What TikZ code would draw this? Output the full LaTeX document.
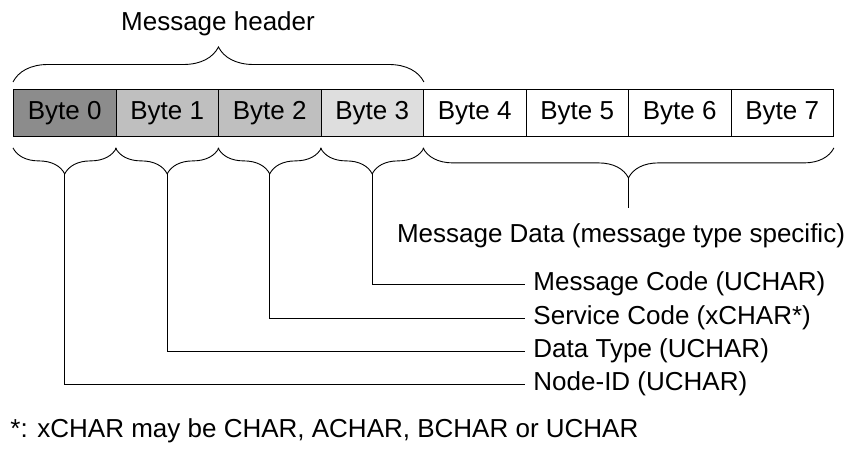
\documentclass[tikz,border=0pt]{standalone}
\usepackage{fontspec}
\setmainfont{Liberation Sans}
\usetikzlibrary{positioning,decorations.pathreplacing}
\begin{document}
\begin{tikzpicture}[x=1pt, y=-1pt, line width=0.9pt, every node/.style={ inner sep=0pt, font=\fontsize{26}{30}\selectfont }, cell/.style={ draw, anchor=north west, minimum width=102.5pt, minimum height=47pt }, brc/.style={ decorate, decoration={brace, amplitude=#1} }, lbl/.style={ anchor=west, inner xsep=8pt }]
		\useasboundingbox (0,0) rectangle (851,454);
		\foreach \i/\c in {0/black!45, 1/black!25, 2/black!25, 3/black!13, 4/white, 5/white, 6/white, 7/white}
			\node[cell, fill=\c] (b\i) at (13+102.5*\i, 89) {Byte \i};
		\draw[brc=35] ([yshift=7pt]b0.north west) -- ([yshift=7pt]b3.north east);
		\node (hdr) at (218,24) {Message header};
		\foreach \i in {0,1,2,3} {
			\draw[brc=26] ([yshift=-11pt]b\i.south east) -- ([yshift=-11pt]b\i.south west);
			\coordinate (t\i) at ([yshift=-37pt]b\i.south);
		}
		\draw[brc=30] ([yshift=-11pt]b7.south east) -- ([yshift=-11pt]b4.south west);
		\coordinate (td) at ([yshift=-41pt]b5.south east);
		\node[inner ysep=15pt] (md) at (621,236) {Message Data (message type specific)};
		\node[lbl] (mc) at (525,284) {Message Code (UCHAR)};
		\node[lbl] (sc) at (525,318) {Service Code (xCHAR*)};
		\node[lbl] (dt) at (525,351) {Data Type (UCHAR)};
		\node[lbl] (nid) at (525,384) {Node-ID (UCHAR)};
		\node[anchor=west] (fn) at (10,431) {*: xCHAR may be CHAR, ACHAR, BCHAR or UCHAR};
		\draw (td) -- (td |- md.north);
		\draw (t3) |- (mc.west);
		\draw (t2) |- (sc.west);
		\draw (t1) |- (dt.west);
		\draw (t0) |- (nid.west);
	\end{tikzpicture}
\end{document}
